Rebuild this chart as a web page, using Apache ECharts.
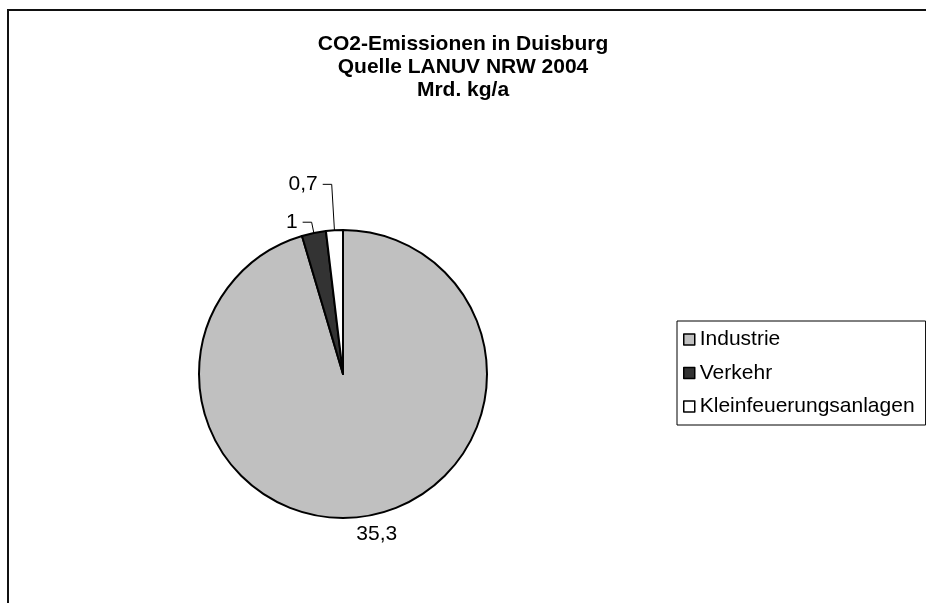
<!DOCTYPE html>
<html>
<head>
<meta charset="utf-8">
<title>CO2-Emissionen in Duisburg</title>
<script src="https://cdn.jsdelivr.net/npm/echarts@6/dist/echarts.min.js"></script>
<style>
html, body { margin: 0; padding: 0; background: #fff; }
#chart { width: 926px; height: 603px; }
</style>
</head>
<body>
<div id="chart"></div>
<script>
// Daten
var categories = ['Industrie', 'Verkehr', 'Kleinfeuerungsanlagen']
var values = [35.3, 1, 0.7]
var colors = ['#c0c0c0', '#333333', '#ffffff']

// Länge der Führungslinien je Segment
var lineLen = [18, 11, 46]
var lineLen2 = [0, 9, 9]

var font = 'Liberation Sans, Arial, sans-serif'

var pieData = categories.map(function (name, i) {
  return {
    name: name,
    value: values[i],
    itemStyle: { color: colors[i] },
    labelLine: { show: i > 0, length: lineLen[i], length2: lineLen2[i] }
  }
})

var chart = echarts.init(document.getElementById('chart'))
chart.setOption({
  animation: false,
  title: {
    text: 'CO2-Emissionen in Duisburg\nQuelle LANUV NRW 2004\nMrd. kg/a',
    left: 'center',
    top: 28,
    textStyle: {
      fontFamily: font,
      fontSize: 21,
      fontWeight: 'bold',
      lineHeight: 23,
      color: '#000'
    }
  },
  legend: {
    orient: 'vertical',
    left: 677,
    top: 321,
    padding: [8, 11, 8, 6],
    itemGap: 12.5,
    itemWidth: 11,
    itemHeight: 11,
    icon: 'rect',
    borderColor: '#000',
    borderWidth: 1,
    selectedMode: false,
    itemStyle: { borderColor: '#000', borderWidth: 1.5 },
    textStyle: { fontFamily: font, fontSize: 21, lineHeight: 21, color: '#000' },
    data: categories
  },
  // Rahmen um die Grafik
  graphic: [{
    type: 'rect',
    shape: { x: 8, y: 10, width: 1000, height: 1000 },
    style: { fill: 'none', stroke: '#111', lineWidth: 2 },
    silent: true
  }],
  series: [{
    type: 'pie',
    center: [343, 374],
    radius: 144,
    startAngle: 90,
    clockwise: true,
    avoidLabelOverlap: false,
    itemStyle: { borderColor: '#000', borderWidth: 2 },
    label: {
      position: 'outside',
      fontFamily: font,
      fontSize: 21,
      color: '#000',
      distanceToLabelLine: 5,
      formatter: function (p) {
        return String(p.value).replace('.', ',')
      }
    },
    labelLine: { lineStyle: { color: '#000', width: 1 } },
    labelLayout: function (params) {
      if (params.dataIndex === 0) {
        return { dx: -15 }
      }
      return {}
    },
    emphasis: { disabled: true },
    data: pieData
  }]
})
</script>
</body>
</html>
